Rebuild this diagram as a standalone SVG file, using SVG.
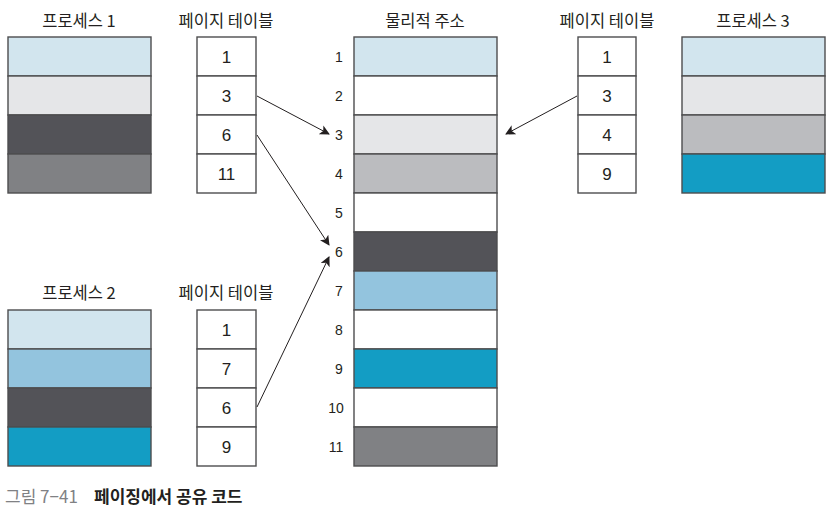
<svg xmlns="http://www.w3.org/2000/svg" width="835" height="515" viewBox="0 0 835 515">
<style>
.t{font-family:"Noto Sans CJK KR","Liberation Sans",sans-serif;font-size:16.5px;fill:#231f20;text-anchor:middle}
.n{font-family:"Liberation Sans",sans-serif;font-size:17px;fill:#231f20;text-anchor:middle}
.a{font-family:"Liberation Sans",sans-serif;font-size:14px;fill:#231f20;text-anchor:middle}
.c{stroke:#4d4d4f;stroke-width:1.4}
.w{fill:#fff}.lb{fill:#d2e5ee}.lg{fill:#e5e6e8}.dk{fill:#535358}.gr{fill:#808184}.mg{fill:#bbbcbf}.mb{fill:#93c4de}.tl{fill:#139dc4}
.ln{stroke:#231f20;stroke-width:1;fill:none}
</style>
<defs>
<marker id="ah" viewBox="0 0 10 10" refX="9" refY="5" markerWidth="10" markerHeight="10" markerUnits="userSpaceOnUse" orient="auto">
<path d="M0,0 L10,5 L0,10 L2.5,5 Z" fill="#231f20"/>
</marker>
</defs>
<g id="proc1">
<text class="t" x="79" y="27">프로세스 1</text>
<rect class="c lb" x="8" y="37" width="143" height="39"/>
<rect class="c lg" x="8" y="76" width="143" height="39"/>
<rect class="c dk" x="8" y="115" width="143" height="39"/>
<rect class="c gr" x="8" y="154" width="143" height="39"/>
</g>
<g id="pt1">
<text class="t" x="226" y="27">페이지 테이블</text>
<rect class="c w" x="197" y="37" width="59" height="39"/>
<rect class="c w" x="197" y="76" width="59" height="39"/>
<rect class="c w" x="197" y="115" width="59" height="39"/>
<rect class="c w" x="197" y="154" width="59" height="39"/>
<text class="n" x="226.5" y="62.5">1</text>
<text class="n" x="226.5" y="101.5">3</text>
<text class="n" x="226.5" y="140.5">6</text>
<text class="n" x="226.5" y="179.5">11</text>
</g>
<g id="proc2">
<text class="t" x="79" y="299">프로세스 2</text>
<rect class="c lb" x="8" y="310" width="143" height="39"/>
<rect class="c mb" x="8" y="349" width="143" height="39"/>
<rect class="c dk" x="8" y="388" width="143" height="39"/>
<rect class="c tl" x="8" y="427" width="143" height="39"/>
</g>
<g id="pt2">
<text class="t" x="226" y="299">페이지 테이블</text>
<rect class="c w" x="197" y="310" width="59" height="39"/>
<rect class="c w" x="197" y="349" width="59" height="39"/>
<rect class="c w" x="197" y="388" width="59" height="39"/>
<rect class="c w" x="197" y="427" width="59" height="39"/>
<text class="n" x="226.5" y="335.5">1</text>
<text class="n" x="226.5" y="374.5">7</text>
<text class="n" x="226.5" y="413.5">6</text>
<text class="n" x="226.5" y="452.5">9</text>
</g>
<g id="phys">
<text class="t" x="425" y="27">물리적 주소</text>
<rect class="c lb" x="354" y="37" width="143" height="39"/>
<rect class="c w" x="354" y="76" width="143" height="39"/>
<rect class="c lg" x="354" y="115" width="143" height="39"/>
<rect class="c mg" x="354" y="154" width="143" height="39"/>
<rect class="c w" x="354" y="193" width="143" height="39"/>
<rect class="c dk" x="354" y="232" width="143" height="39"/>
<rect class="c mb" x="354" y="271" width="143" height="39"/>
<rect class="c w" x="354" y="310" width="143" height="39"/>
<rect class="c tl" x="354" y="349" width="143" height="39"/>
<rect class="c w" x="354" y="388" width="143" height="39"/>
<rect class="c gr" x="354" y="427" width="143" height="39"/>
<text class="a" x="339" y="61.5">1</text>
<text class="a" x="339" y="100.5">2</text>
<text class="a" x="339" y="139.5">3</text>
<text class="a" x="339" y="178.5">4</text>
<text class="a" x="339" y="217.5">5</text>
<text class="a" x="339" y="256.5">6</text>
<text class="a" x="339" y="295.5">7</text>
<text class="a" x="339" y="334.5">8</text>
<text class="a" x="339" y="373.5">9</text>
<text class="a" x="336" y="412.5">10</text>
<text class="a" x="336" y="451.5">11</text>
</g>
<g id="pt3">
<text class="t" x="607" y="27">페이지 테이블</text>
<rect class="c w" x="578" y="37" width="58" height="39"/>
<rect class="c w" x="578" y="76" width="58" height="39"/>
<rect class="c w" x="578" y="115" width="58" height="39"/>
<rect class="c w" x="578" y="154" width="58" height="39"/>
<text class="n" x="607" y="62.5">1</text>
<text class="n" x="607" y="101.5">3</text>
<text class="n" x="607" y="140.5">4</text>
<text class="n" x="607" y="179.5">9</text>
</g>
<g id="proc3">
<text class="t" x="753" y="27">프로세스 3</text>
<rect class="c lb" x="682" y="37" width="143" height="39"/>
<rect class="c lg" x="682" y="76" width="143" height="39"/>
<rect class="c mg" x="682" y="115" width="143" height="39"/>
<rect class="c tl" x="682" y="154" width="143" height="39"/>
</g>
<g id="connectors">
<line class="ln" x1="257" y1="96" x2="329" y2="134" marker-end="url(#ah)"/>
<line class="ln" x1="257" y1="135" x2="329" y2="245" marker-end="url(#ah)"/>
<line class="ln" x1="257" y1="407" x2="329" y2="257" marker-end="url(#ah)"/>
<line class="ln" x1="577" y1="96" x2="506" y2="134" marker-end="url(#ah)"/>
</g>
<g id="caption">
<text x="5" y="503" style="font-family:'Noto Sans CJK KR','Liberation Sans',sans-serif;font-size:17px;fill:#808184">그림 7−41</text>
<text x="94" y="503" style="font-family:'Noto Sans CJK KR','Liberation Sans',sans-serif;font-size:17px;font-weight:bold;fill:#231f20">페이징에서 공유 코드</text>
</g>
</svg>
